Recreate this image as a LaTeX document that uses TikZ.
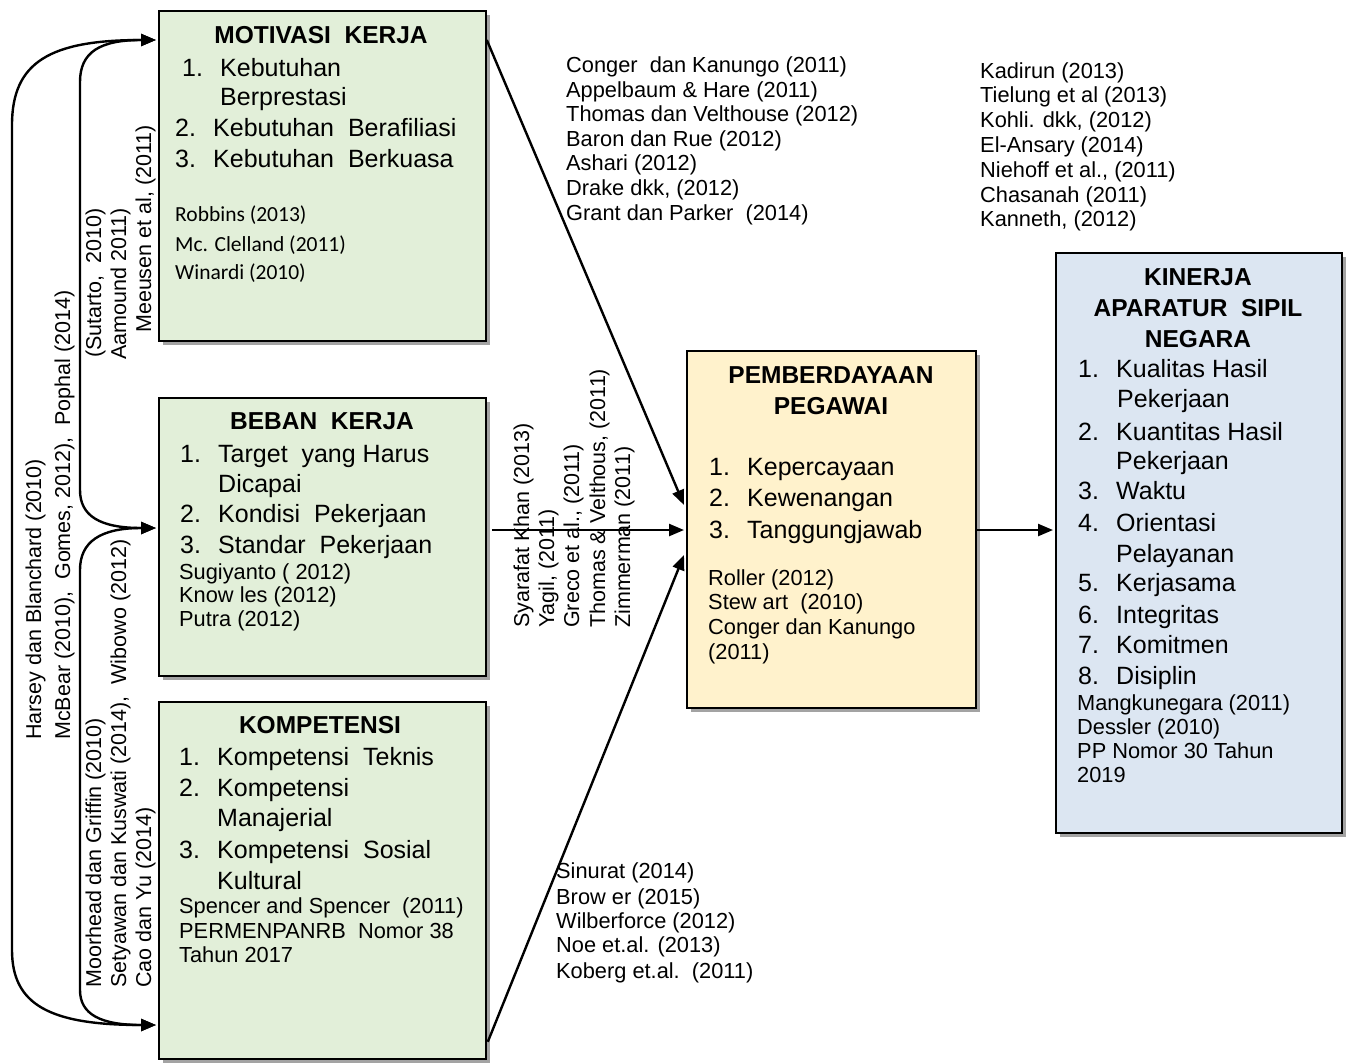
\documentclass[tikz,border=0pt]{standalone}
\usepackage{fontspec}
\setmainfont{Liberation Sans}
\newfontfamily\calibfont{Carlito}
\usetikzlibrary{arrows.meta,shadows,calc}

\definecolor{boxgreen}{HTML}{E2EFD9}
\definecolor{boxyellow}{HTML}{FFF2CC}
\definecolor{boxblue}{HTML}{DCE6F2}
\newcommand\nb[1]{\makebox[38pt][l]{#1}}

\tikzset{
  varbox/.style={draw, line width=1.8pt, anchor=north west, inner sep=0pt,
    drop shadow={shadow xshift=4pt,shadow yshift=-4pt,fill=black!45,opacity=.8}},
  ttl/.style={anchor=base, inner sep=0pt, font=\fontsize{24.5}{29}\selectfont\bfseries},
  itm/.style={anchor=base west, inner sep=0pt, font=\fontsize{25}{29}\selectfont},
  rf/.style={anchor=base west, inner sep=0pt, font=\fontsize{21.8}{25}\selectfont},
  rfc/.style={anchor=base west, inner sep=0pt, font=\fontsize{21.5}{25}\selectfont\calibfont},
  rot/.style={anchor=base west, inner sep=0pt, rotate=90, font=\fontsize{21.5}{25}\selectfont},
  arr/.style={line width=2.4pt, -{Triangle[length=15pt,width=12pt]}},
  arrs/.style={line width=2.4pt, {Triangle[length=15pt,width=12pt]}-{Triangle[length=15pt,width=12pt]}},
}

\begin{document}
\begin{tikzpicture}[x=1pt,y=-1pt]
  \useasboundingbox (0,0) rectangle (1348,1063);

  %%%%% BOXES %%%%%
  \node[varbox, fill=boxgreen, minimum width=327pt, minimum height=330pt] (mot) at (158,10) {};
  \node[varbox, fill=boxgreen, minimum width=327pt, minimum height=278pt] (beb) at (158,397) {};
  \node[varbox, fill=boxgreen, minimum width=327pt, minimum height=357pt] (kom) at (158,701) {};
  \node[varbox, fill=boxyellow, minimum width=289pt, minimum height=357pt] (pem) at (686,350) {};
  \node[varbox, fill=boxblue, minimum width=286pt, minimum height=580pt] (kin) at (1055,252) {};

  %%%%% MOTIVASI KERJA %%%%%
  \node[ttl] (mt) at (321,43) {MOTIVASI\ \ KERJA};
  \node[itm] (mi1) at (182,76) {\nb{1.}Kebutuhan};
  \node[itm] (mi2) at (220,105) {Berprestasi};
  \node[itm] (mi3) at (175,136) {\nb{2.}Kebutuhan\ \ Berafiliasi};
  \node[itm] (mi4) at (175,167) {\nb{3.}Kebutuhan\ \ Berkuasa};
  \node[rfc] (mr1) at (175,221) {Robbins (2013)};
  \node[rfc] (mr2) at (175,251) {Mc. Clelland (2011)};
  \node[rfc] (mr3) at (175,279) {Winardi (2010)};

  %%%%% BEBAN KERJA %%%%%
  \node[ttl] (bt) at (322,429) {BEBAN\ \ KERJA};
  \node[itm] (bi1) at (180,462) {\nb{1.}Target\ \ yang Harus};
  \node[itm] (bi2) at (218,492) {Dicapai};
  \node[itm] (bi3) at (180,522) {\nb{2.}Kondisi\ \ Pekerjaan};
  \node[itm] (bi4) at (180,553) {\nb{3.}Standar\ \ Pekerjaan};
  \node[rf] (br1) at (179,579) {Sugiyanto ( 2012)};
  \node[rf] (br2) at (179,602) {Know les (2012)};
  \node[rf] (br3) at (179,626) {Putra (2012)};

  %%%%% KOMPETENSI %%%%%
  \node[ttl] (kt) at (320,733) {KOMPETENSI};
  \node[itm] (ki1) at (179,765) {\nb{1.}Kompetensi\ \ Teknis};
  \node[itm] (ki2) at (179,796) {\nb{2.}Kompetensi};
  \node[itm] (ki3) at (217,826) {Manajerial};
  \node[itm] (ki4) at (179,858) {\nb{3.}Kompetensi\ \ Sosial};
  \node[itm] (ki5) at (217,889) {Kultural};
  \node[rf] (kr1) at (179,913) {Spencer and Spencer\ \ (2011)};
  \node[rf] (kr2) at (179,938) {PERMENPANRB\ \ Nomor 38};
  \node[rf] (kr3) at (179,962) {Tahun 2017};

  %%%%% PEMBERDAYAAN PEGAWAI %%%%%
  \node[ttl] (pt1) at (831,383) {PEMBERDAYAAN};
  \node[ttl] (pt2) at (831,414) {PEGAWAI};
  \node[itm] (pi1) at (709,475) {\nb{1.}Kepercayaan};
  \node[itm] (pi2) at (709,506) {\nb{2.}Kewenangan};
  \node[itm] (pi3) at (709,538) {\nb{3.}Tanggungjawab};
  \node[rf] (pr1) at (708,585) {Roller (2012)};
  \node[rf] (pr2) at (708,609) {Stew art\ \ (2010)};
  \node[rf] (pr3) at (708,634) {Conger dan Kanungo};
  \node[rf] (pr4) at (708,659) {(2011)};

  %%%%% KINERJA ASN %%%%%
  \node[ttl] (nt1) at (1198,285) {KINERJA};
  \node[ttl] (nt2) at (1198,316) {APARATUR\ \ SIPIL};
  \node[ttl] (nt3) at (1198,347) {NEGARA};
  \node[itm] (ni1) at (1078,377) {\nb{1.}Kualitas Hasil};
  \node[itm] (ni2) at (1117,407) {Pekerjaan};
  \node[itm] (ni3) at (1078,440) {\nb{2.}Kuantitas Hasil};
  \node[itm] (ni4) at (1116,469) {Pekerjaan};
  \node[itm] (ni5) at (1078,499) {\nb{3.}Waktu};
  \node[itm] (ni6) at (1078,531) {\nb{4.}Orientasi};
  \node[itm] (ni7) at (1116,562) {Pelayanan};
  \node[itm] (ni8) at (1078,591) {\nb{5.}Kerjasama};
  \node[itm] (ni9) at (1078,623) {\nb{6.}Integritas};
  \node[itm] (ni10) at (1078,653) {\nb{7.}Komitmen};
  \node[itm] (ni11) at (1078,684) {\nb{8.}Disiplin};
  \node[rf] (nr1) at (1077,710) {Mangkunegara (2011)};
  \node[rf] (nr2) at (1077,734) {Dessler (2010)};
  \node[rf] (nr3) at (1077,758) {PP Nomor 30 Tahun};
  \node[rf] (nr4) at (1077,782) {2019};

  %%%%% REFERENCES ON ARROWS %%%%%
  \node[rf] (ta1) at (566,72) {Conger\ \ dan Kanungo (2011)};
  \node[rf] (ta2) at (566,97) {Appelbaum \& Hare (2011)};
  \node[rf] (ta3) at (566,121) {Thomas dan Velthouse (2012)};
  \node[rf] (ta4) at (566,146) {Baron dan Rue (2012)};
  \node[rf] (ta5) at (566,170) {Ashari (2012)};
  \node[rf] (ta6) at (566,195) {Drake dkk, (2012)};
  \node[rf] (ta7) at (566,220) {Grant dan Parker\ \ (2014)};

  \node[rf] (tb1) at (980,78) {Kadirun (2013)};
  \node[rf] (tb2) at (980,102) {Tielung et al (2013)};
  \node[rf] (tb3) at (980,127) {Kohli. dkk, (2012)};
  \node[rf] (tb4) at (980,152) {El-Ansary (2014)};
  \node[rf] (tb5) at (980,177) {Niehoff et al., (2011)};
  \node[rf] (tb6) at (980,202) {Chasanah (2011)};
  \node[rf] (tb7) at (980,226) {Kanneth, (2012)};

  \node[rf] (tc1) at (556,878) {Sinurat (2014)};
  \node[rf] (tc2) at (556,904) {Brow er (2015)};
  \node[rf] (tc3) at (556,928) {Wilberforce (2012)};
  \node[rf] (tc4) at (556,952) {Noe et.al. (2013)};
  \node[rf] (tc5) at (556,978) {Koberg et.al.\ \ (2011)};

  \node[rot] (rm1) at (529,628) {Syarafat Khan (2013)};
  \node[rot] (rm2) at (554,628) {Yagil, (2011)};
  \node[rot] (rm3) at (579,628) {Greco et al., (2011)};
  \node[rot] (rm4) at (605,628) {Thomas \& Velthous, (2011)};
  \node[rot] (rm5) at (630,628) {Zimmerman (2011)};

  \node[rot] (ro1) at (41,740) {Harsey dan Blanchard (2010)};
  \node[rot] (ro2) at (70,740) {McBear (2010),\ \ Gomes, 2012),\ \ Pophal (2014)};

  \node[rot] (ru1) at (101,358) {(Sutarto,\ \ 2010)};
  \node[rot] (ru2) at (126,360) {Aamound 2011)};
  \node[rot] (ru3) at (151,333) {Meeusen et al, (2011)};

  \node[rot] (rl1) at (101,988) {Moorhead dan Griffin (2010)};
  \node[rot] (rl2) at (126,988) {Setyawan dan Kuswati (2014),\ \ Wibowo (2012)};
  \node[rot] (rl3) at (151,988) {Cao dan Yu (2014)};

  %%%%% CONNECTORS %%%%%
  \coordinate (mot-out) at ($(mot.north east)+(0,30)$);
  \coordinate (beb-out) at ($(beb.north east)+(5,133)$);
  \coordinate (kom-out) at ($(kom.south east)+(1,-18)$);
  \coordinate (pem-in1) at ($(pem.north west)+(-2,155)$);
  \coordinate (pem-in2) at ($(pem.north west)+(-2,180)$);
  \coordinate (pem-in3) at ($(pem.north west)+(-2,205)$);
  \coordinate (pem-out) at ($(pem.north east)+(0,180)$);
  \coordinate (kin-in) at ($(kin.north west)+(-2,278)$);

  \draw[arr] (mot-out) -- (pem-in1);
  \draw[arr] (beb-out) -- (pem-in2);
  \draw[arr] (kom-out) -- (pem-in3);
  \draw[arr] (pem-out) -- (kin-in);

  \coordinate (mot-l) at ($(mot.north west)+(-2,30)$);
  \coordinate (beb-l) at ($(beb.north west)+(-2,131)$);
  \coordinate (kom-l) at ($(kom.north west)+(-2,324)$);

  \draw[arrs] (mot-l) .. controls (50,40) and (12,62) .. (12,125) -- (12,950)
    .. controls (12,1005) and (50,1025) .. (kom-l);
  \draw[arrs] (mot-l) .. controls (100,40) and (80,52) .. (80,82) -- (80,490)
    .. controls (80,516) and (100,528) .. (beb-l);
  \draw[arrs] (beb-l) .. controls (100,528) and (80,542) .. (80,570) -- (80,990)
    .. controls (80,1014) and (100,1025) .. (kom-l);
\end{tikzpicture}
\end{document}
